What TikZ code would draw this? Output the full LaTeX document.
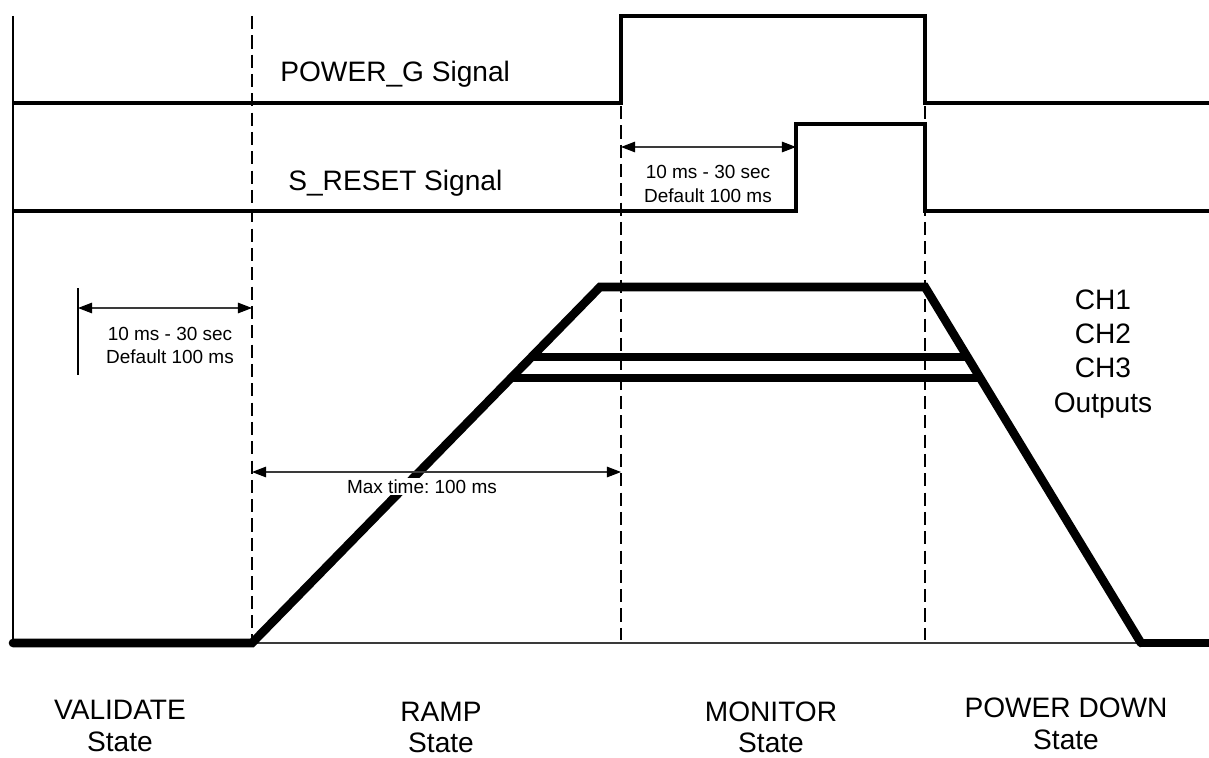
\documentclass[tikz,border=0pt]{standalone}
\usepackage{fontspec}
\setmainfont{Liberation Sans}
\usetikzlibrary{arrows.meta,positioning,calc}
\definecolor{ink}{HTML}{000000}
\definecolor{dimgray}{HTML}{3A3A3A}
\frenchspacing

\tikzset{
  sigline/.style={ink, line width=1.9pt, line join=miter},
  chline/.style={ink, line width=4.9pt, line join=miter},
  divider/.style={ink, line width=0.8pt, dash pattern=on 7.5pt off 3.5pt},
  dimarrow/.style={{Triangle[length=8pt,width=6pt,color=ink]}-{Triangle[length=8pt,width=6pt,color=ink]}, dimgray, line width=0.6pt},
  biglabel/.style={font=\fontsize{16}{19}\selectfont, anchor=base, inner sep=0pt},
  smalllabel/.style={font=\fontsize{10.8}{13}\selectfont, anchor=base, inner sep=0pt},
}

\begin{document}
\begin{tikzpicture}[x=0.02cm, y=-0.02cm, >=Stealth]
  \useasboundingbox (0,0) rectangle (1209,757);

  % time marks
  \coordinate (t0) at (13,643);
  \coordinate (tv) at (252,643);
  \coordinate (rampstart) at (252,643);
  \coordinate (ramptop) at (600,287);
  \coordinate (falltop) at (925,287);
  \coordinate (fallend) at (1141,643);

  % axis and phase dividers
  \draw[ink, line width=1.1pt] (13,16) -- (t0);
  \draw[divider] (252,16) -- (tv);
  \draw[divider] (621,106) -- (621,640);
  \draw[divider] (925,106) -- (925,640);
  \draw[dimgray, line width=0.6pt] (t0) -- (fallend);

  % control signals
  \draw[sigline] (13,103) -- (621,103) -- (621,16) -- (925,16) -- (925,103) -- (1209,103);
  \draw[sigline] (13,211) -- (796,211) -- (796,124) -- (925,124) -- (925,211) -- (1209,211);
  \node[biglabel, anchor=base west] (pg) at (280,82) {POWER\_G Signal};
  \node[biglabel, anchor=base west] (sr) at (288,190) {S\_RESET Signal};

  % channel outputs
  \draw[chline, line cap=round] (t0) -- (rampstart) -- (ramptop) -- (falltop) -- (fallend);
  \draw[chline] (fallend) -- (1212,643);
  \draw[chline] (intersection of rampstart--ramptop and 0,357--1,357) -- (intersection of falltop--fallend and 0,357--1,357);
  \draw[chline] (intersection of rampstart--ramptop and 0,378--1,378) -- (intersection of falltop--fallend and 0,378--1,378);
  \foreach \y/\l in {309/CH1, 343/CH2, 377/CH3, 412/Outputs}
    \node[biglabel] (out\l) at (1103,\y) {\l};

  % timing dimensions
  \coordinate (da) at (78,308);
  \coordinate (db) at (252,308);
  \draw[ink, line width=0.6pt] (78,288) -- (78,375);
  \draw[dimarrow] (da) -- (db);
  \node[smalllabel] (dl1) at (170,340) {10 ms - 30 sec};
  \node[smalllabel] (dl2) at (170,363) {Default 100 ms};

  \coordinate (ra) at (621,147);
  \coordinate (rb) at (796,147);
  \draw[dimarrow] (ra) -- (rb);
  \node[smalllabel] (rl1) at (708,178) {10 ms - 30 sec};
  \node[smalllabel] (rl2) at (708,202) {Default 100 ms};

  \coordinate (ma) at (252,472);
  \coordinate (mb) at (621,472);
  \draw[dimarrow] (ma) -- (mb);
  \node[smalllabel, fill=white, inner sep=1pt] (ml) at (422,493) {Max time: 100 ms};

  % state names
  \foreach \x/\a/\b/\s/\t in {120/VALIDATE/State/719/751, 441/RAMP/State/721/752,
                              771/MONITOR/State/721/752, 1066/POWER DOWN/State/717/749} {
    \node[biglabel] at (\x,\s) {\a};
    \node[biglabel] at (\x,\t) {\b};
  }
\end{tikzpicture}
\end{document}
